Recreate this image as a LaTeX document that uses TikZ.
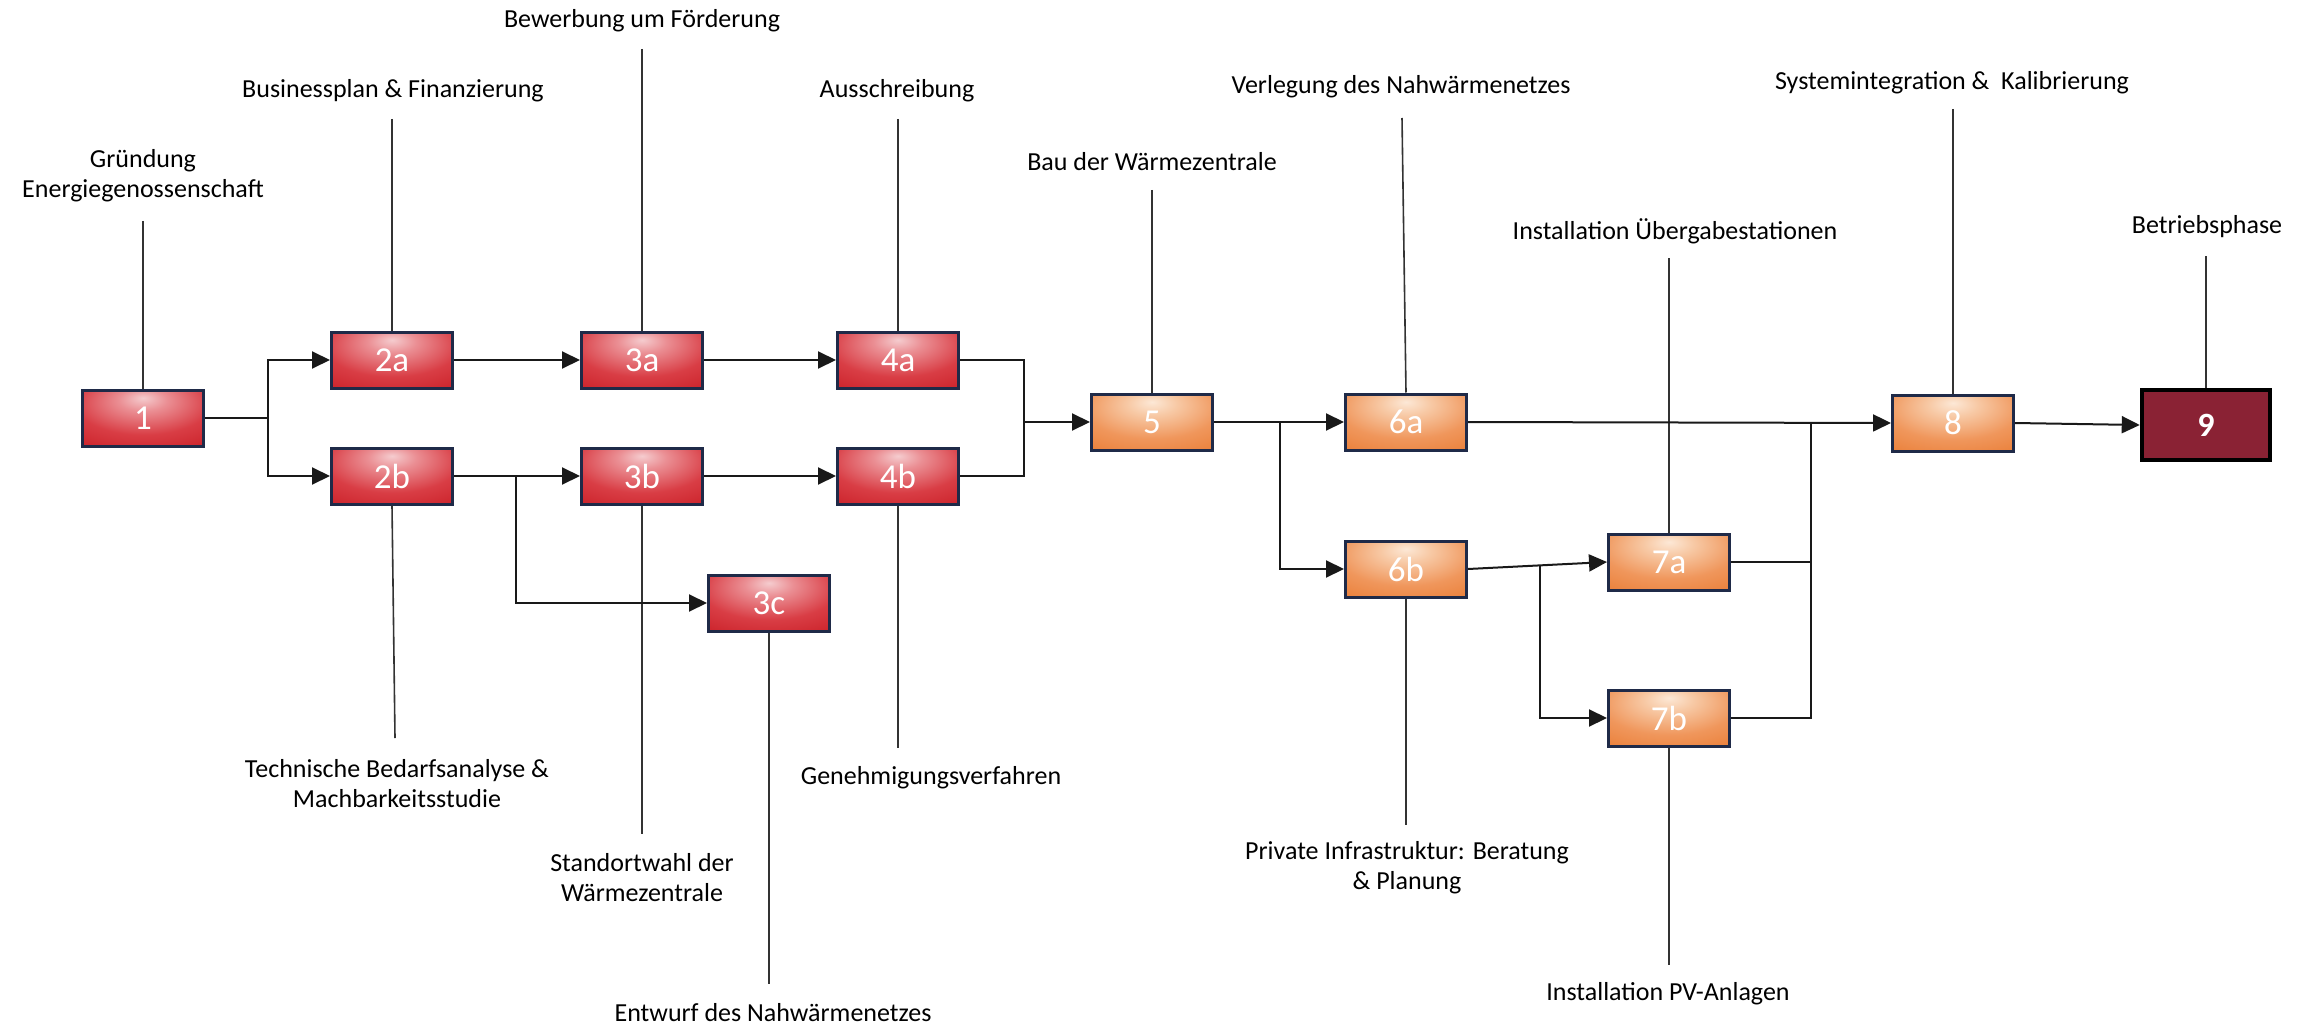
\documentclass[tikz,border=0pt]{standalone}
\usepackage{fontspec}
\setmainfont{Carlito}
\usetikzlibrary{arrows.meta,calc}
\definecolor{navy}{HTML}{1F2A48}
\definecolor{maroon}{HTML}{8A2234}
\pgfdeclareradialshading{redsh}{\pgfpoint{0bp}{18bp}}{rgb(0bp)=(0.96,0.80,0.81); rgb(10bp)=(0.92,0.56,0.58); rgb(28bp)=(0.85,0.24,0.27); rgb(50bp)=(0.78,0.10,0.13); rgb(100bp)=(0.76,0.08,0.11)}
\pgfdeclareradialshading{orsh}{\pgfpoint{0bp}{18bp}}{rgb(0bp)=(0.99,0.91,0.84); rgb(10bp)=(0.97,0.79,0.65); rgb(28bp)=(0.94,0.59,0.36); rgb(50bp)=(0.91,0.47,0.18); rgb(100bp)=(0.90,0.45,0.16)}
\begin{document}
\begin{tikzpicture}[x=1pt,y=-1pt,
  box/.style={minimum width=121pt,minimum height=56pt,inner sep=0pt,draw=navy,line width=3pt,text=white,font=\fontsize{35}{40}\selectfont},
  redbox/.style={box,shading=redsh},
  orangebox/.style={box,shading=orsh},
  lbl/.style={align=center,font=\fontsize{26}{30}\selectfont,inner sep=0pt},
  conn/.style={line width=2pt,draw=black!90,-{Triangle[length=18pt,width=17pt]}},
  plain/.style={line width=2pt,draw=black!90},
  tie/.style={line width=1.6pt,draw=black!80}]
\useasboundingbox (0,0) rectangle (2310,1027);
% boxes
\node[redbox] (n1) at (143,418) {1};
\node[redbox] (n2a) at (392,360) {2a};
\node[redbox] (n2b) at (392,476) {2b};
\node[redbox] (n3a) at (642,360) {3a};
\node[redbox] (n3b) at (642,476) {3b};
\node[redbox] (n3c) at (769,603) {3c};
\node[redbox] (n4a) at (898,360) {4a};
\node[redbox] (n4b) at (898,476) {4b};
\node[orangebox] (n5) at (1152,422) {5};
\node[orangebox] (n6a) at (1406,422) {6a};
\node[orangebox] (n6b) at (1406,569) {6b};
\node[orangebox] (n7a) at (1669,562) {7a};
\node[orangebox] (n7b) at (1669,718) {7b};
\node[orangebox] (n8) at (1953,423) {8};
\node[minimum width=128pt,minimum height=70pt,inner sep=0pt,draw=black,line width=4.5pt,fill=maroon,text=white,font=\fontsize{34}{40}\selectfont\bfseries] (n9) at (2206,425) {9};
% labels
\node[lbl] (l1) at (143,176) {Gründung\\Energiegenossenschaft};
\node[lbl] (l2a) at (393,91) {Businessplan \& Finanzierung};
\node[lbl] (l3a) at (642,21) {Bewerbung um Förderung};
\node[lbl] (l4a) at (897,91) {Ausschreibung};
\node[lbl] (l5) at (1152,162) {Bau der Wärmezentrale};
\node[lbl] (l6a) at (1401,87) {Verlegung des Nahwärmenetzes};
\node[lbl] (l7a) at (1675,231) {Installation Übergabestationen};
\node[lbl] (l8) at (1952,83) {Systemintegration \&\ \ Kalibrierung};
\node[lbl] (l9) at (2207,227) {Betriebsphase};
\node[lbl] (l2b) at (397,784) {Technische Bedarfsanalyse \&\\Machbarkeitsstudie};
\node[lbl] (l3b) at (642,878) {Standortwahl der\\Wärmezentrale};
\node[lbl] (l3c) at (773,1013) {Entwurf des Nahwärmenetzes};
\node[lbl] (l4b) at (931,778) {Genehmigungsverfahren};
\node[lbl] (l6b) at (1407,868) {Private Infrastruktur: Beratung\\\& Planung};
\node[lbl] (l7b) at (1668,994) {Installation PV-Anlagen};
% label line ends
\coordinate (t1) at (143,221);
\coordinate (t2a) at (392,119);
\coordinate (t3a) at (642,49);
\coordinate (t4a) at (898,119);
\coordinate (t5) at (1152,190);
\coordinate (t6a) at (1402,118);
\coordinate (t7a) at (1669,258);
\coordinate (t8) at (1953,109);
\coordinate (t9) at (2206,256);
\coordinate (t2b) at (395,738);
\coordinate (t3b) at (642,834);
\coordinate (t3c) at (769,984);
\coordinate (t4b) at (898,748);
\coordinate (t6b) at (1406,825);
\coordinate (t7b) at (1669,965);
\foreach \n in {1,2a,3a,4a,5,6a,7a,8,9}{\draw[tie] (t\n) -- (n\n.north);}
\foreach \n in {2b,3b,3c,4b,6b,7b}{\draw[tie] (n\n.south) -- (t\n);}
% connectors
\coordinate (b1) at (268,418);
\draw[plain] (n1.east) -- (b1);
\draw[conn] (b1) |- (n2a.west);
\draw[conn] (b1) |- (n2b.west);
\draw[conn] (n2a.east) -- (n3a.west);
\draw[conn] (n3a.east) -- (n4a.west);
\draw[conn] (n2b.east) -- (n3b.west);
\coordinate (b2) at (516,476);
\draw[conn] (b2) |- (n3c.west);
\draw[conn] (n3b.east) -- (n4b.west);
\coordinate (j4) at (1024,422);
\draw[plain] (n4a.east) -| (j4) |- (n4b.east);
\draw[conn] (j4) -- (n5.west);
\draw[conn] (n5.east) -- (n6a.west);
\coordinate (b5) at (1280,422);
\draw[conn] (b5) |- (n6b.west);
\draw[conn] (n6b.east) -- (n7a.west);
\coordinate (b6) at ($(n6b.east)!0.52!(n7a.west)$);
\draw[conn] (b6) |- (n7b.west);
\draw[conn] (n6a.east) -- (n8.west);
\coordinate (j7) at (1811,422.6);
\draw[plain] (n7a.east) -| (j7);
\draw[plain] (n7b.east) -| (j7);
\draw[conn] (n8.east) -- (n9.west);
\end{tikzpicture}
\end{document}
